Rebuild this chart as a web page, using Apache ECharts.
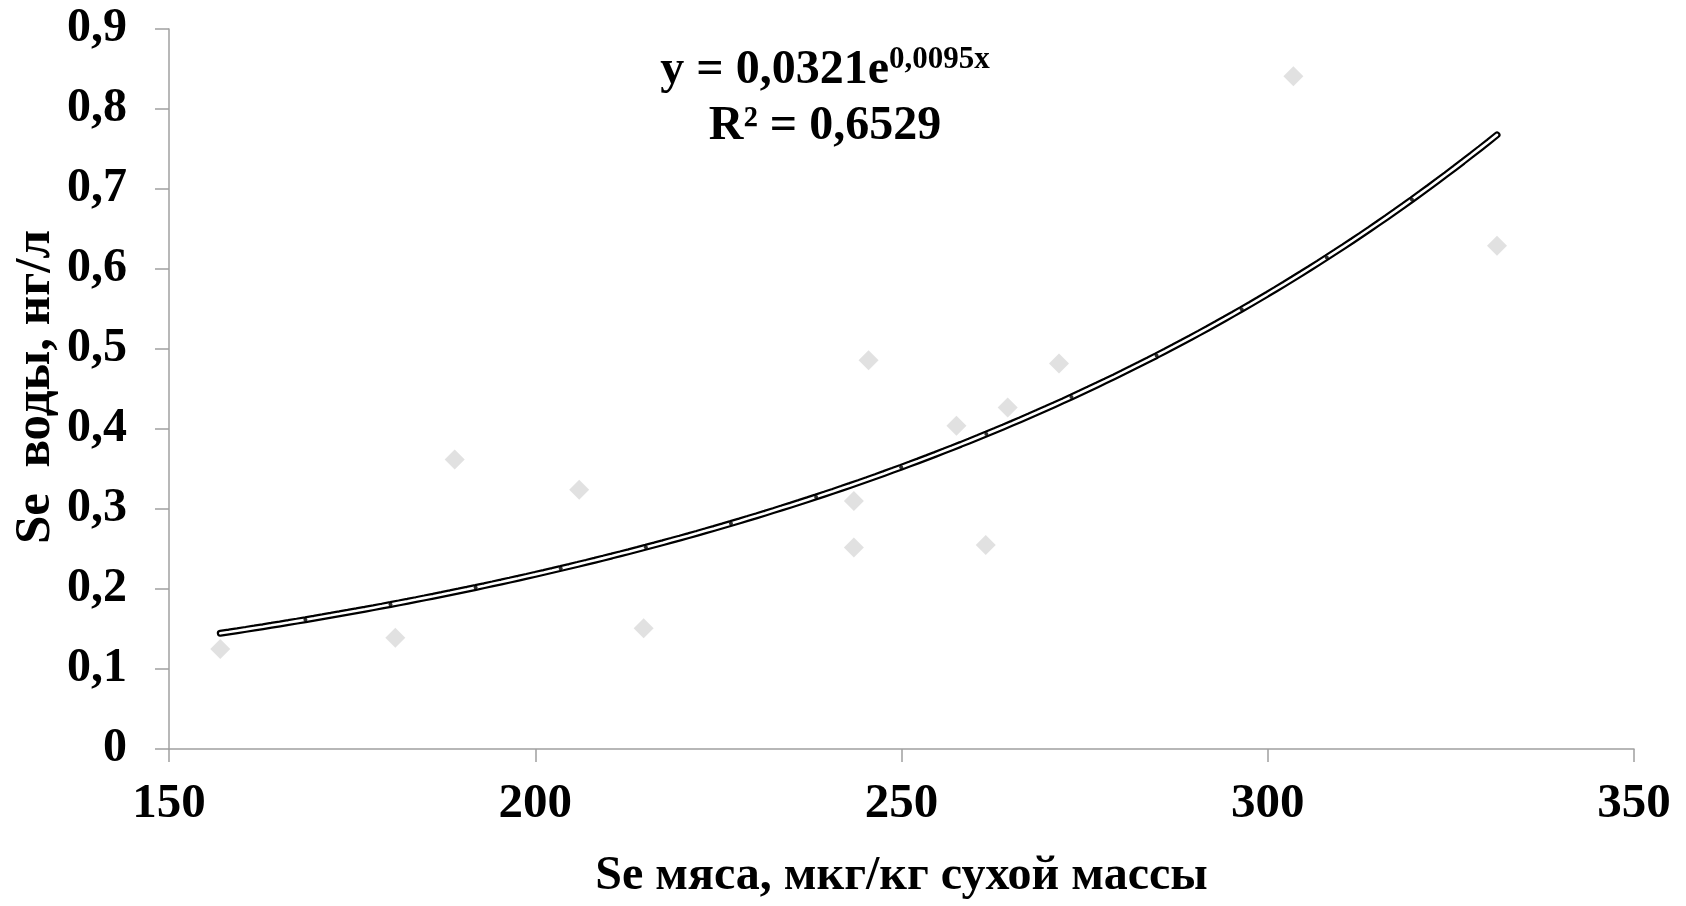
<!DOCTYPE html>
<html>
<head>
<meta charset="utf-8">
<script src="https://cdn.jsdelivr.net/npm/echarts@6/dist/echarts.min.js"></script>
<style>
html,body{margin:0;padding:0;background:#fff;}
#chart{width:1686px;height:906px;}
</style>
</head>
<body>
<div id="chart"></div>
<script>
// Scatter data: Se in meat (x) vs Se in water (y)
const meatSe = [157.0, 180.9, 189.0, 206.0, 214.8, 243.5, 243.5, 245.5, 257.5, 261.5, 264.5, 271.5, 303.5, 331.3];
const waterSe = [0.125, 0.139, 0.362, 0.324, 0.151, 0.310, 0.252, 0.486, 0.404, 0.255, 0.427, 0.482, 0.841, 0.629];
const eqLine1 = 'y = 0,0321e';
const eqExp = '0,0095x';
const eqLine2 = 'R² = 0,6529';
const xTicks = [150, 200, 250, 300, 350];
const yTicks = [0, 0.1, 0.2, 0.3, 0.4, 0.5, 0.6, 0.7, 0.8, 0.9];
const xTitle = 'Se мяса, мкг/кг сухой массы';
const yTitle = 'Se  воды, нг/л';

// Exponential least-squares fit of the scatter data (ln y = ln a + b x)
const n = meatSe.length;
const lnY = waterSe.map(v => Math.log(v));
const mx = meatSe.reduce((s, v) => s + v, 0) / n;
const my = lnY.reduce((s, v) => s + v, 0) / n;
let sxy = 0, sxx = 0;
for (let i = 0; i < n; i++) { sxy += (meatSe[i] - mx) * (lnY[i] - my); sxx += (meatSe[i] - mx) ** 2; }
const fitB = sxy / sxx;
const fitA = Math.exp(my - fitB * mx);
const xMin = Math.min(...meatSe), xMax = Math.max(...meatSe);
const trendFine = [];
for (let i = 0; i <= 150; i++) {
  const x = xMin + (xMax - xMin) * i / 150;
  trendFine.push([x, fitA * Math.exp(fitB * x)]);
}
const trendNodes = [];
for (let i = 1; i < 15; i++) {
  const x = xMin + (xMax - xMin) * i / 15;
  trendNodes.push([x, fitA * Math.exp(fitB * x)]);
}

const FONT = '"Liberation Serif", "Times New Roman", serif';
const axisGrey = '#a0a0a0';

// equation layout: main text + superscript, centred as a group
const eqCX = 825, eqY1 = 71, eqY2 = 127;
const mainStyle = {text: eqLine1, fontFamily: FONT, fontWeight: 'bold', fontSize: 48};
const supStyle = {text: eqExp, fontFamily: FONT, fontWeight: 'bold', fontSize: 31};
const wMain = new echarts.graphic.Text({style: mainStyle}).getBoundingRect().width;
const wSup = new echarts.graphic.Text({style: supStyle}).getBoundingRect().width;
const splitX = eqCX - (wMain + wSup) / 2 + wMain;

const chart = echarts.init(document.getElementById('chart'));
chart.setOption({
  backgroundColor: '#fff',
  animation: false,
  grid: {left: 169, right: 52, top: 29, bottom: 145},
  xAxis: {
    type: 'value', min: xTicks[0], max: xTicks[xTicks.length - 1], interval: 50,
    name: xTitle, nameLocation: 'middle', nameGap: 104,
    nameTextStyle: {fontFamily: FONT, fontWeight: 'bold', fontSize: 48, color: '#000'},
    axisLine: {show: true, onZero: false, lineStyle: {color: axisGrey, width: 1.5}},
    axisTick: {show: true, length: 13, lineStyle: {color: axisGrey, width: 1.5}},
    axisLabel: {fontFamily: FONT, fontWeight: 'bold', fontSize: 49, color: '#000', margin: 31},
    splitLine: {show: false}
  },
  yAxis: {
    type: 'value', min: yTicks[0], max: yTicks[yTicks.length - 1], interval: 0.1,
    axisLine: {show: true, onZero: false, lineStyle: {color: axisGrey, width: 1.5}},
    axisTick: {show: true, length: 14, lineStyle: {color: axisGrey, width: 1.5}},
    axisLabel: {fontFamily: FONT, fontWeight: 'bold', fontSize: 48, color: '#000', margin: 42,
      formatter: v => String(Math.round(v * 10) / 10).replace('.', ',')},
    splitLine: {show: false}
  },
  series: [
    {
      type: 'scatter', data: meatSe.map((x, i) => [x, waterSe[i]]),
      symbol: 'diamond', symbolSize: 20, itemStyle: {color: '#d9d9d9'}, z: 2
    },
    {
      type: 'line', data: trendFine, showSymbol: false, smooth: false,
      lineStyle: {color: '#000', width: 7, cap: 'round'}, z: 3
    },
    {
      type: 'line', data: trendFine, showSymbol: false, smooth: false,
      lineStyle: {color: '#fff', width: 2.6, cap: 'round'}, z: 4
    },
    {
      type: 'scatter', data: trendNodes, symbol: 'circle', symbolSize: 4,
      itemStyle: {color: '#000'}, z: 5
    }
  ],
  graphic: [
    {
      type: 'text', z: 10,
      style: Object.assign({}, mainStyle, {x: splitX, y: eqY1, align: 'right', verticalAlign: 'middle', fill: '#000'})
    },
    {
      type: 'text', z: 10,
      style: Object.assign({}, supStyle, {x: splitX, y: eqY1 - 11, align: 'left', verticalAlign: 'middle', fill: '#000'})
    },
    {
      type: 'text', z: 10,
      style: {
        x: eqCX, y: eqY2, align: 'center', verticalAlign: 'middle',
        text: eqLine2, fontFamily: FONT, fontWeight: 'bold', fontSize: 48, fill: '#000'
      }
    },
    {
      type: 'text', z: 10, x: 36, y: 387, rotation: Math.PI / 2,
      style: {
        x: 0, y: 0, align: 'center', verticalAlign: 'middle',
        text: yTitle, fontFamily: FONT, fontWeight: 'bold', fontSize: 51, fill: '#000'
      }
    }
  ]
});
</script>
</body>
</html>
